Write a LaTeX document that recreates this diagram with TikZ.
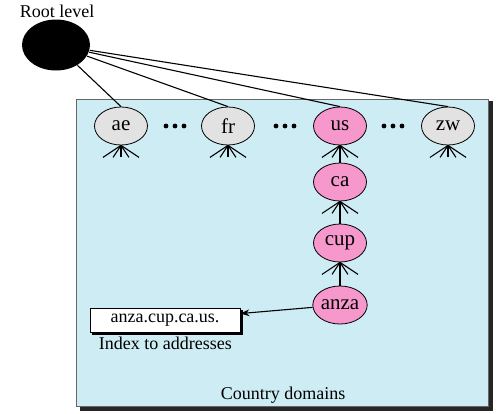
\documentclass[tikz,border=0pt]{standalone}
\usepackage{fontspec}
\setmainfont{Liberation Serif}
\usetikzlibrary{shapes.geometric, arrows.meta, shadows}

\definecolor{domainblue}{RGB}{205,236,243}
\definecolor{nodegray}{RGB}{226,226,226}
\definecolor{nodepink}{RGB}{246,152,204}

\tikzset{
  dom/.style={ellipse, draw, thick, fill=nodegray, minimum width=53pt, minimum height=38pt, inner sep=0pt,
    font=\fontsize{21}{24}\selectfont},
  hit/.style={dom, fill=nodepink},
  plain/.style={font=\fontsize{18}{20}\selectfont},
}

\begin{document}
\begin{tikzpicture}[x=1pt, y=-1pt, plain, line width=1.1pt]
    \useasboundingbox (0,0) rectangle (497,413);
    % Country domains box, with its shadow
    \fill[black!85] (80,101) rectangle (493,411);
    \draw[black!60, line width=0.8pt, fill=domainblue] (76,99) rectangle (488,406);
    \node (country) at (283,395) {Country domains};
    % root
    \node (rootlabel) at (57,11) {Root level};
    \node[ellipse, fill=black, minimum width=68pt, minimum height=51pt] (root) at (56,45) {};
    % top level domains
    \node[dom] (ae) at (121,126) {ae};
    \node[dom] (fr) at (228,126) {fr};
    \node[hit] (us) at (340,126) {us};
    \node[dom] (zw) at (448,126) {zw};
    \node[hit] (ca) at (340,182) {ca};
    \node[hit] (cup) at (340,243) {cup};
    \node[hit] (anza) at (340,305) {anza};
    % dots between domains
    \foreach \x in {175,285,393} {
      \foreach \dx in {-9,0,9}
        \fill (\x+\dx,126) circle (2.4pt);
    }
    % root to domains
    \foreach \n in {ae,fr,us,zw}
      \draw (root) -- (\n.north);
    % crow's feet (many children)
    \foreach \n in {ae,fr,us,zw,ca,cup} {
      \foreach \dx in {-18,-8,0,8,18}
        \draw (\n.south) -- ++(\dx,12);
    }
    \draw (ca) -- (us);
    \draw (cup) -- (ca);
    \draw (anza) -- (cup);
    % index
    \node[draw, thick, fill=white, minimum width=150pt, minimum height=24pt,
      copy shadow={shadow xshift=2.5pt, shadow yshift=-2.5pt, draw=black, fill=black}] (index) at (165,320) {anza.cup.ca.us.};
    \node[anchor=north west] (indexlabel) at (95,333) {Index to addresses};
    \draw[-{Stealth[length=9pt]}] (anza) -- (index);
  \end{tikzpicture}
\end{document}
